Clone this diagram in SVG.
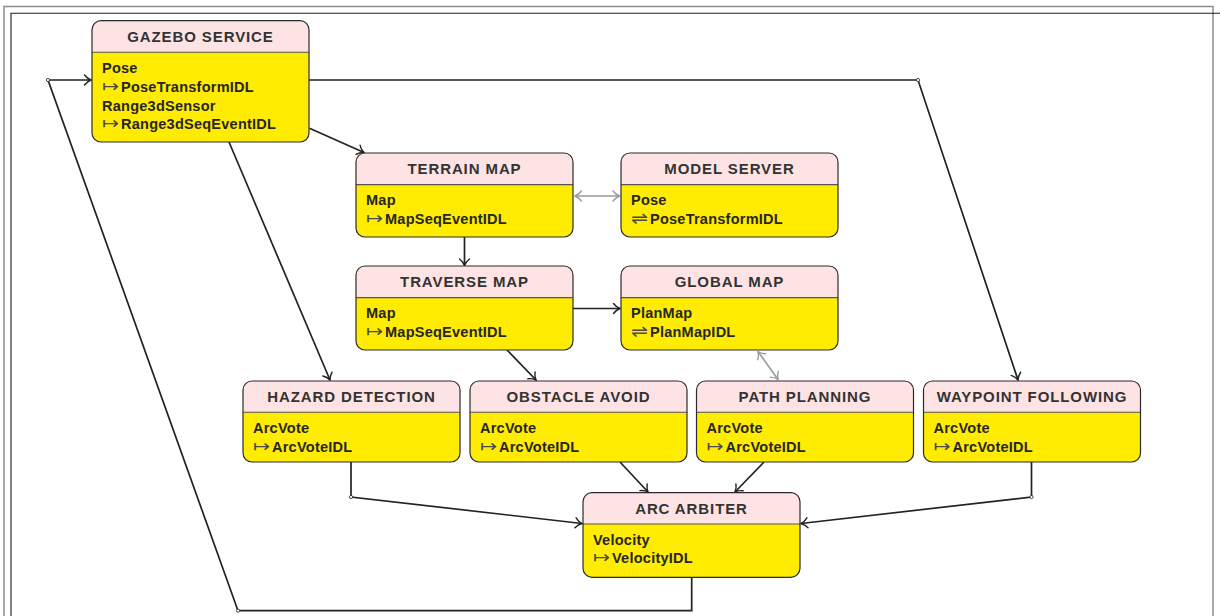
<svg xmlns="http://www.w3.org/2000/svg" width="1220" height="616" viewBox="0 0 1220 616">
  <defs>
    <style>
      .frame-outer { fill: none; stroke: #8c8c8c; stroke-width: 1.5; }
      .frame-inner { fill: none; stroke: #1e1e1e; stroke-width: 1.1; }
      .body { fill: #ffec00; stroke: none; }
      .head { fill: #fde3e4; stroke: none; }
      .outline { fill: none; stroke: #2b2b2b; stroke-width: 1.2; }
      .divider { stroke: #555; stroke-width: 1.1; }
      .title { font-family: "Liberation Sans", Arial, sans-serif; font-weight: bold; font-size: 15px; letter-spacing: 0.9px; fill: #333; text-anchor: middle; }
      .field { font-family: "Liberation Sans", Arial, sans-serif; font-weight: bold; font-size: 14.5px; letter-spacing: 0.25px; fill: #262626; }
      .sym { font-family: "DejaVu Sans", sans-serif; font-weight: normal; font-size: 17px; fill: #4a4a4a; }
      .edge { fill: none; stroke: #222; stroke-width: 1.7; }
      .edge-soft { fill: none; stroke: #9a9a9a; stroke-width: 1.7; }
      .joint { fill: #fff; stroke: #222; stroke-width: 0.8; }
    </style>
    <marker id="to" viewBox="-8 -6 9 12" markerWidth="9" markerHeight="12" refX="0" refY="0" markerUnits="userSpaceOnUse" orient="auto-start-reverse">
      <path d="M -6.5 -5 C -4.2 -1.9 -1.6 -0.6 0 0 C -1.6 0.6 -4.2 1.9 -6.5 5" fill="none" stroke="#222" stroke-width="1.4" stroke-linecap="round"/>
    </marker>
    <marker id="to-soft" viewBox="-8 -6 9 12" markerWidth="9" markerHeight="12" refX="0" refY="0" markerUnits="userSpaceOnUse" orient="auto-start-reverse">
      <path d="M -6.5 -5 C -4.2 -1.9 -1.6 -0.6 0 0 C -1.6 0.6 -4.2 1.9 -6.5 5" fill="none" stroke="#9a9a9a" stroke-width="1.4" stroke-linecap="round"/>
    </marker>
  </defs>

  <!-- page frame -->
  <rect class="frame-outer" x="4" y="6.5" width="1209" height="700"/>
  <path class="frame-inner" d="M 11 616 V 13.3 H 1220"/>

  <!-- connectors -->
  <g id="connectors">
    <!-- arbiter output fed back into the simulator -->
    <path class="edge" d="M 691.7 577.3 V 610.7 H 238 L 48 80 H 91" marker-end="url(#to)"/>
    <!-- simulator pose to waypoint following -->
    <path class="edge" d="M 309 80 H 918 L 1018 380" marker-end="url(#to)"/>
    <path class="edge" d="M 309.5 128.3 L 364 152.5" marker-end="url(#to)"/>
    <path class="edge" d="M 229 142 L 330 380" marker-end="url(#to)"/>
    <path class="edge" d="M 464.5 237 V 265.5" marker-end="url(#to)"/>
    <path class="edge-soft" d="M 575 196 H 619.5" marker-start="url(#to-soft)" marker-end="url(#to-soft)"/>
    <path class="edge" d="M 573 308.5 H 620" marker-end="url(#to)"/>
    <path class="edge" d="M 507 350 L 536 380" marker-end="url(#to)"/>
    <path class="edge-soft" d="M 758 351.5 L 778 379.5" marker-start="url(#to-soft)" marker-end="url(#to-soft)"/>
    <path class="edge" d="M 351 462 V 497 L 582 523.5" marker-end="url(#to)"/>
    <path class="edge" d="M 620 462 L 648 492" marker-end="url(#to)"/>
    <path class="edge" d="M 764 462 L 735 492" marker-end="url(#to)"/>
    <path class="edge" d="M 1031.5 462 V 497 L 801 523.5" marker-end="url(#to)"/>
    <circle class="joint" cx="48" cy="80" r="1.6"/>
    <circle class="joint" cx="918" cy="80" r="1.6"/>
    <circle class="joint" cx="238" cy="610.7" r="1.6"/>
    <circle class="joint" cx="351" cy="497" r="1.6"/>
    <circle class="joint" cx="1031.5" cy="497" r="1.6"/>
  </g>

  <!-- GAZEBO SERVICE -->
  <g id="gazebo-service">
    <rect class="body" x="92" y="20.7" width="217" height="121.3" rx="9"/>
    <path class="head" d="M 92 52.3 V 29.7 A 9 9 0 0 1 101 20.7 H 300 A 9 9 0 0 1 309 29.7 V 52.3 Z"/>
    <line class="divider" x1="92" y1="52.3" x2="309" y2="52.3"/>
    <rect class="outline" x="92" y="20.7" width="217" height="121.3" rx="9"/>
    <text class="title" x="200.5" y="41.7">GAZEBO SERVICE</text>
    <text class="field" x="102" y="72.7">Pose</text>
    <text class="sym" x="102" y="91.7" textLength="17" lengthAdjust="spacingAndGlyphs">↦</text>
    <text class="field" x="121" y="91.7">PoseTransformIDL</text>
    <text class="field" x="102" y="110.5">Range3dSensor</text>
    <text class="sym" x="102" y="129.3" textLength="17" lengthAdjust="spacingAndGlyphs">↦</text>
    <text class="field" x="121" y="129.3">Range3dSeqEventIDL</text>
  </g>

  <!-- TERRAIN MAP -->
  <g id="terrain-map">
    <rect class="body" x="356" y="153" width="217" height="84" rx="9"/>
    <path class="head" d="M 356 184.6 V 162 A 9 9 0 0 1 365 153 H 564 A 9 9 0 0 1 573 162 V 184.6 Z"/>
    <line class="divider" x1="356" y1="184.6" x2="573" y2="184.6"/>
    <rect class="outline" x="356" y="153" width="217" height="84" rx="9"/>
    <text class="title" x="464.5" y="174">TERRAIN MAP</text>
    <text class="field" x="366" y="205">Map</text>
    <text class="sym" x="366" y="224" textLength="17" lengthAdjust="spacingAndGlyphs">↦</text>
    <text class="field" x="385" y="224">MapSeqEventIDL</text>
  </g>

  <!-- MODEL SERVER -->
  <g id="model-server">
    <rect class="body" x="621" y="153" width="217" height="84" rx="9"/>
    <path class="head" d="M 621 184.6 V 162 A 9 9 0 0 1 630 153 H 829 A 9 9 0 0 1 838 162 V 184.6 Z"/>
    <line class="divider" x1="621" y1="184.6" x2="838" y2="184.6"/>
    <rect class="outline" x="621" y="153" width="217" height="84" rx="9"/>
    <text class="title" x="729.5" y="174">MODEL SERVER</text>
    <text class="field" x="631" y="205">Pose</text>
    <text class="sym" x="631" y="224" textLength="17" lengthAdjust="spacingAndGlyphs">⇌</text>
    <text class="field" x="650" y="224">PoseTransformIDL</text>
  </g>

  <!-- TRAVERSE MAP -->
  <g id="traverse-map">
    <rect class="body" x="356" y="266" width="217" height="84" rx="9"/>
    <path class="head" d="M 356 297.6 V 275 A 9 9 0 0 1 365 266 H 564 A 9 9 0 0 1 573 275 V 297.6 Z"/>
    <line class="divider" x1="356" y1="297.6" x2="573" y2="297.6"/>
    <rect class="outline" x="356" y="266" width="217" height="84" rx="9"/>
    <text class="title" x="464.5" y="287">TRAVERSE MAP</text>
    <text class="field" x="366" y="318">Map</text>
    <text class="sym" x="366" y="337" textLength="17" lengthAdjust="spacingAndGlyphs">↦</text>
    <text class="field" x="385" y="337">MapSeqEventIDL</text>
  </g>

  <!-- GLOBAL MAP -->
  <g id="global-map">
    <rect class="body" x="621" y="266" width="217" height="84" rx="9"/>
    <path class="head" d="M 621 297.6 V 275 A 9 9 0 0 1 630 266 H 829 A 9 9 0 0 1 838 275 V 297.6 Z"/>
    <line class="divider" x1="621" y1="297.6" x2="838" y2="297.6"/>
    <rect class="outline" x="621" y="266" width="217" height="84" rx="9"/>
    <text class="title" x="729.5" y="287">GLOBAL MAP</text>
    <text class="field" x="631" y="318">PlanMap</text>
    <text class="sym" x="631" y="337" textLength="17" lengthAdjust="spacingAndGlyphs">⇌</text>
    <text class="field" x="650" y="337">PlanMapIDL</text>
  </g>

  <!-- HAZARD DETECTION -->
  <g id="hazard-detection">
    <rect class="body" x="243" y="381" width="217" height="81" rx="9"/>
    <path class="head" d="M 243 412.3 V 390 A 9 9 0 0 1 252 381 H 451 A 9 9 0 0 1 460 390 V 412.3 Z"/>
    <line class="divider" x1="243" y1="412.3" x2="460" y2="412.3"/>
    <rect class="outline" x="243" y="381" width="217" height="81" rx="9"/>
    <text class="title" x="351.5" y="402">HAZARD DETECTION</text>
    <text class="field" x="253" y="432.7">ArcVote</text>
    <text class="sym" x="253" y="451.5" textLength="17" lengthAdjust="spacingAndGlyphs">↦</text>
    <text class="field" x="272" y="451.5">ArcVoteIDL</text>
  </g>

  <!-- OBSTACLE AVOID -->
  <g id="obstacle-avoid">
    <rect class="body" x="470" y="381" width="217" height="81" rx="9"/>
    <path class="head" d="M 470 412.3 V 390 A 9 9 0 0 1 479 381 H 678 A 9 9 0 0 1 687 390 V 412.3 Z"/>
    <line class="divider" x1="470" y1="412.3" x2="687" y2="412.3"/>
    <rect class="outline" x="470" y="381" width="217" height="81" rx="9"/>
    <text class="title" x="578.5" y="402">OBSTACLE AVOID</text>
    <text class="field" x="480" y="432.7">ArcVote</text>
    <text class="sym" x="480" y="451.5" textLength="17" lengthAdjust="spacingAndGlyphs">↦</text>
    <text class="field" x="499" y="451.5">ArcVoteIDL</text>
  </g>

  <!-- PATH PLANNING -->
  <g id="path-planning">
    <rect class="body" x="696.5" y="381" width="217" height="81" rx="9"/>
    <path class="head" d="M 696.5 412.3 V 390 A 9 9 0 0 1 705.5 381 H 904.5 A 9 9 0 0 1 913.5 390 V 412.3 Z"/>
    <line class="divider" x1="696.5" y1="412.3" x2="913.5" y2="412.3"/>
    <rect class="outline" x="696.5" y="381" width="217" height="81" rx="9"/>
    <text class="title" x="805" y="402">PATH PLANNING</text>
    <text class="field" x="706.5" y="432.7">ArcVote</text>
    <text class="sym" x="706.5" y="451.5" textLength="17" lengthAdjust="spacingAndGlyphs">↦</text>
    <text class="field" x="725.5" y="451.5">ArcVoteIDL</text>
  </g>

  <!-- WAYPOINT FOLLOWING -->
  <g id="waypoint-following">
    <rect class="body" x="923.5" y="381" width="217" height="81" rx="9"/>
    <path class="head" d="M 923.5 412.3 V 390 A 9 9 0 0 1 932.5 381 H 1131.5 A 9 9 0 0 1 1140.5 390 V 412.3 Z"/>
    <line class="divider" x1="923.5" y1="412.3" x2="1140.5" y2="412.3"/>
    <rect class="outline" x="923.5" y="381" width="217" height="81" rx="9"/>
    <text class="title" x="1032" y="402">WAYPOINT FOLLOWING</text>
    <text class="field" x="933.5" y="432.7">ArcVote</text>
    <text class="sym" x="933.5" y="451.5" textLength="17" lengthAdjust="spacingAndGlyphs">↦</text>
    <text class="field" x="952.5" y="451.5">ArcVoteIDL</text>
  </g>

  <!-- ARC ARBITER -->
  <g id="arc-arbiter">
    <rect class="body" x="583" y="492.7" width="217" height="84.6" rx="9"/>
    <path class="head" d="M 583 524 V 501.7 A 9 9 0 0 1 592 492.7 H 791 A 9 9 0 0 1 800 501.7 V 524 Z"/>
    <line class="divider" x1="583" y1="524" x2="800" y2="524"/>
    <rect class="outline" x="583" y="492.7" width="217" height="84.6" rx="9"/>
    <text class="title" x="691.5" y="513.7">ARC ARBITER</text>
    <text class="field" x="593" y="544.5">Velocity</text>
    <text class="sym" x="593" y="563.3" textLength="17" lengthAdjust="spacingAndGlyphs">↦</text>
    <text class="field" x="612" y="563.3">VelocityIDL</text>
  </g>
</svg>
